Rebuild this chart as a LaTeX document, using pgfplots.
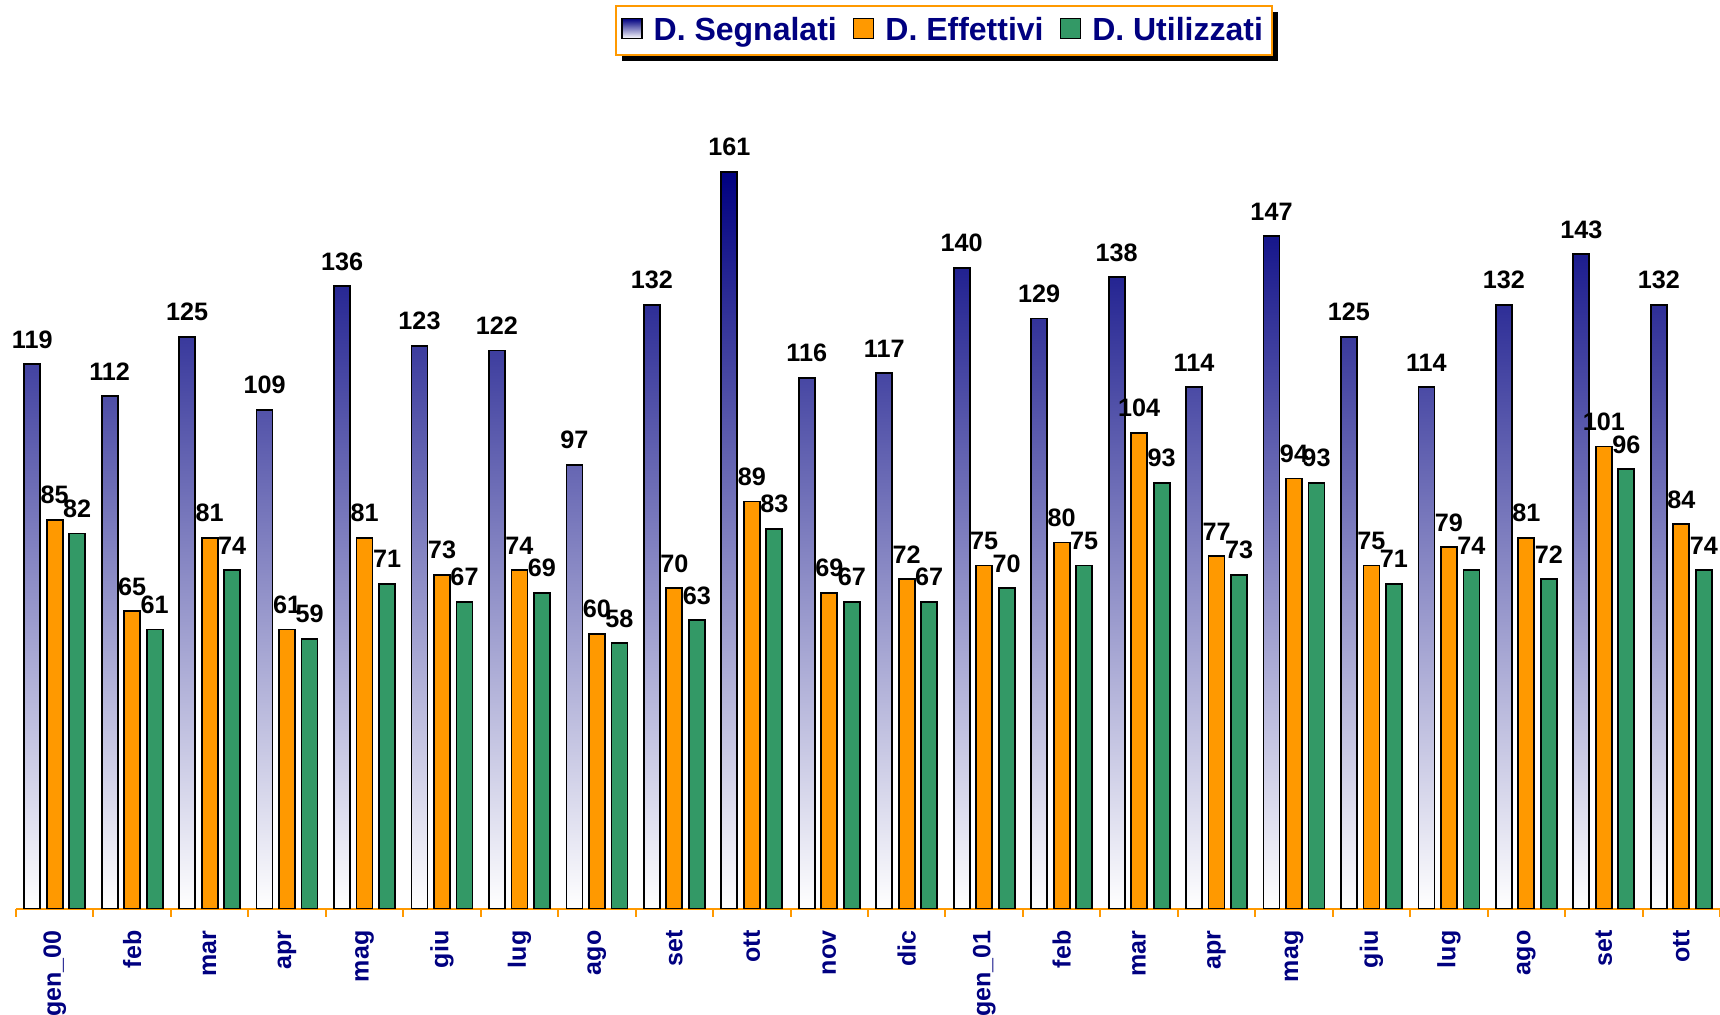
\documentclass[border=0pt]{standalone}
\usepackage{fontspec}
\setmainfont{Liberation Sans}
\usepackage{pgfplots}
\pgfplotsset{compat=1.18}
\usetikzlibrary{shadows}
\definecolor{navyb}{HTML}{000080}
\definecolor{orng}{HTML}{FF9900}
\definecolor{grn}{HTML}{339966}
\makeatletter
\tikzset{nopre/.code={\let\tikz@preactions\pgfutil@empty}}
\makeatother
\pgfplotsset{
  sqleg/.style={legend image code/.code={\draw[nopre,##1,draw=black,line width=0.8pt] (0pt,-4pt) rectangle (10pt,6pt);}}
}
\begin{document}
\begin{tikzpicture}
\path[use as bounding box] (0,0) rectangle (860pt,507.5pt);
\begin{axis}[
  at={(8pt,53.2pt)}, anchor=south west,
  scale only axis, width=852pt, height=411.75pt,
  ymin=0, ymax=180, xmin=-0.5, xmax=21.5,
  axis x line=bottom, axis y line=none,
  x axis line style={orng, line width=1pt, -},
  ybar=3.25pt, bar width=8pt,
  xtick={0,...,21},
  xticklabels={gen\_00,feb,mar,apr,mag,giu,lug,ago,set,ott,nov,dic,gen\_01,feb,mar,apr,mag,giu,lug,ago,set,ott},
  major x tick style={draw=none},
  major tick length=0pt,
  minor xtick={-0.5,0.5,...,21.5},
  minor x tick style={orng, line width=1pt},
  minor tick length=4pt, tick align=outside,
  x tick label style={yshift=-7.5pt, rotate=90, anchor=east, font=\bfseries\fontsize{12.5}{15}\selectfont, text=navyb},
  /pgf/number format/assume math mode=true,
  nodes near coords,
  every node near coord/.append style={font=\bfseries\fontsize{12.6}{14}\selectfont, text=black, inner sep=1pt, yshift=6.5pt},
  legend style={at={(0.5446,1.0967)}, anchor=north, legend columns=-1,
    draw=orng, line width=1pt, fill=white,
    drop shadow={shadow xshift=3pt, shadow yshift=-3pt, fill=black, opacity=1},
    font=\bfseries\fontsize{16}{18}\selectfont, text=navyb,
    inner xsep=2.5pt, inner ysep=3.5pt,
    /tikz/every odd column/.append style={column sep=3.5pt},
    /tikz/every even column/.append style={column sep=6pt}},
]
\addplot[draw=black, line width=0.9pt, top color=navyb, middle color=navyb!32!white, bottom color=white, sqleg] coordinates {
(0,119) (1,112) (2,125) (3,109) (4,136) (5,123) (6,122) (7,97) (8,132) (9,161) (10,116)
(11,117) (12,140) (13,129) (14,138) (15,114) (16,147) (17,125) (18,114) (19,132) (20,143) (21,132)};
\addplot[draw=black, line width=0.9pt, fill=orng, sqleg] coordinates {
(0,85) (1,65) (2,81) (3,61) (4,81) (5,73) (6,74) (7,60) (8,70) (9,89) (10,69)
(11,72) (12,75) (13,80) (14,104) (15,77) (16,94) (17,75) (18,79) (19,81) (20,101) (21,84)};
\addplot[draw=black, line width=0.9pt, fill=grn, sqleg] coordinates {
(0,82) (1,61) (2,74) (3,59) (4,71) (5,67) (6,69) (7,58) (8,63) (9,83) (10,67)
(11,67) (12,70) (13,75) (14,93) (15,73) (16,93) (17,71) (18,74) (19,72) (20,96) (21,74)};
\legend{D. Segnalati, D. Effettivi, D. Utilizzati}
\end{axis}
\end{tikzpicture}
\end{document}
